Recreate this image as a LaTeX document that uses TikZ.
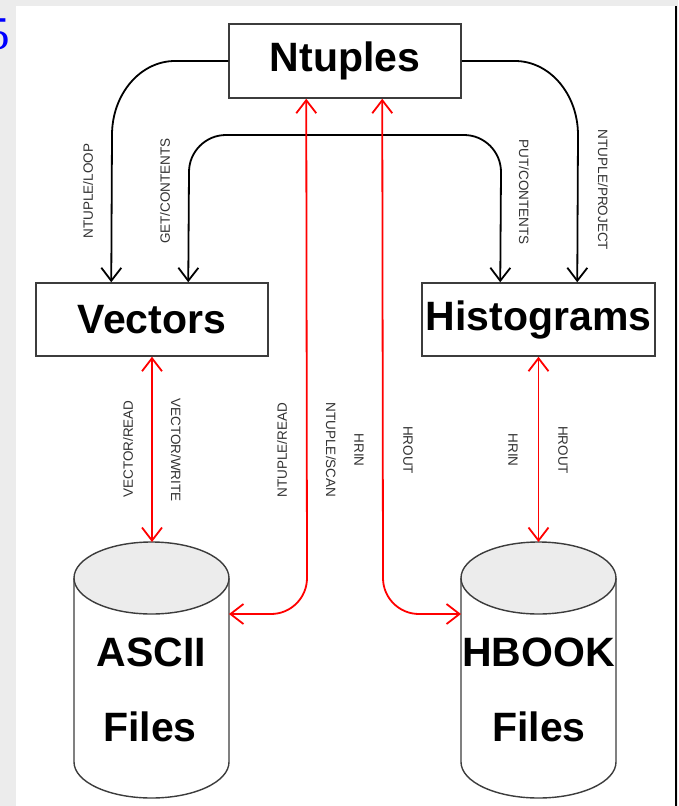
\documentclass[tikz,border=0pt]{standalone}
\usepackage{fontspec}
\setmainfont{Liberation Serif}
\newfontfamily\hv{Liberation Sans}
\usetikzlibrary{arrows.meta,calc}
\definecolor{pagegray}{RGB}{236,236,236}
\definecolor{topgray}{RGB}{236,236,236}
\definecolor{edge}{RGB}{60,60,60}
\definecolor{lbl}{RGB}{50,50,50}
\definecolor{linkred}{RGB}{255,0,0}
\tikzset{
  box/.style={draw=edge, line width=1.5pt, fill=white, inner sep=0pt,
    font=\hv\bfseries\fontsize{41}{41}\selectfont},
  boxtext/.style={inner sep=0pt, font=\hv\bfseries\fontsize{41}{41}\selectfont},
  opname/.style={inner sep=0pt, text=lbl, font=\hv\fontsize{13.5}{13.5}\selectfont},
  cyl/.style={draw=edge, line width=1.4pt},
  barb/.tip={Straight Barb[length=13pt,width=20pt]},
  blink/.style={line width=1.8pt, black, -barb},
  blinks/.style={line width=1.8pt, black, barb-barb},
  rlink/.style={line width=1.8pt, linkred, barb-barb},
}
\begin{document}
\begin{tikzpicture}[x=1pt,y=1pt]
\useasboundingbox (0,0) rectangle (678,-806);
% page background and frame
\fill[pagegray] (0,0) rectangle (678,-806);
\fill[white] (16,-6) rectangle (675,-806);
\draw[line width=2.5pt] (676,-6) -- (676,-806);
\node[anchor=base east, inner sep=0pt, text=blue,
  font=\fontsize{47}{47}\selectfont] (pagenum) at (10,-49) {5};

% boxes
\node[box, minimum width=232pt, minimum height=74pt] (ntuples) at (345,-61) {Ntuples};
\node[box, minimum width=232pt, minimum height=73pt] (vectors) at (152,-319.5) {Vectors};
\node[box, minimum width=233pt, minimum height=73pt] (histograms) at (538.5,-319.5) {Histograms};

% ASCII files cylinder
\filldraw[cyl, fill=white] (74,-578) -- (74,-762)
  arc[start angle=180, end angle=360, x radius=77.5, y radius=36] -- (229,-578);
\filldraw[cyl, fill=pagegray] (151.5,-578) ellipse [x radius=77.5, y radius=36];
\node[boxtext] (asciiA) at (151.5,-652) {ASCII};
\node[boxtext] (asciiB) at (150,-727) {Files};
\coordinate (asciitop) at (152,-542);
\coordinate (asciiside) at (229,-614);

% HBOOK files cylinder
\filldraw[cyl, fill=white] (461,-578) -- (461,-762)
  arc[start angle=180, end angle=360, x radius=77.5, y radius=36] -- (616,-578);
\filldraw[cyl, fill=pagegray] (538.5,-578) ellipse [x radius=77.5, y radius=36];
\node[boxtext] (hbookA) at (538.5,-652) {HBOOK};
\node[boxtext] (hbookB) at (539,-727) {Files};
\coordinate (hbooktop) at (538.5,-542);
\coordinate (hbookside) at (461,-614);

% ports on box edges
\coordinate (vecin1) at ($(vectors.north west)+(76,0)$);
\coordinate (vecin2) at ($(vectors.north west)+(153,0)$);
\coordinate (hisin1) at ($(histograms.north west)+(79,0)$);
\coordinate (hisin2) at ($(histograms.north west)+(156,0)$);
\coordinate (ntout1) at ($(ntuples.south west)+(78,0)$);
\coordinate (ntout2) at ($(ntuples.south west)+(154,0)$);

% black links
\draw[blink] (ntuples.west) -- (175,-61)
  .. controls (140.2,-61) and (112,-94.2) .. (112,-135) -- (vecin1);
\draw[blinks] (vecin2) -- (189,-172)
  .. controls (189,-151.6) and (205.6,-135) .. (226,-135) -- (464,-135)
  .. controls (484.4,-135) and (501,-151.6) .. (501,-172) -- (hisin1);
\draw[blink] (ntuples.east) -- (515,-61)
  .. controls (549.8,-61) and (578,-94.2) .. (578,-135) -- (hisin2);

% red links
\draw[rlink] (vectors.south) -- (asciitop);
\draw[rlink] (histograms.south) -- (hbooktop);
\draw[rlink] (ntout1) -- (307,-578)
  .. controls (307,-597.9) and (290.9,-614) .. (271,-614) -- (asciiside);
\draw[rlink] (ntout2) -- (383,-578)
  .. controls (383,-597.9) and (399.1,-614) .. (419,-614) -- (hbookside);

% operation names
\node[opname, rotate=90]  (l1)  at (88,-191)  {NTUPLE/LOOP};
\node[opname, rotate=90]  (l2)  at (165,-191) {GET/CONTENTS};
\node[opname, rotate=-90] (l3)  at (524,-192) {PUT/CONTENTS};
\node[opname, rotate=-90] (l4)  at (603,-190) {NTUPLE/PROJECT};
\node[opname, rotate=90]  (l5)  at (128,-449) {VECTOR/READ};
\node[opname, rotate=-90] (l6)  at (176,-450) {VECTOR/WRITE};
\node[opname, rotate=90]  (l7)  at (282,-450) {NTUPLE/READ};
\node[opname, rotate=-90] (l8)  at (331,-450) {NTUPLE/SCAN};
\node[opname, rotate=-90] (l9)  at (359,-450) {HRIN};
\node[opname, rotate=-90] (l10) at (408,-450) {HROUT};
\node[opname, rotate=-90] (l11) at (513,-450) {HRIN};
\node[opname, rotate=-90] (l12) at (563,-450) {HROUT};
\end{tikzpicture}
\end{document}
